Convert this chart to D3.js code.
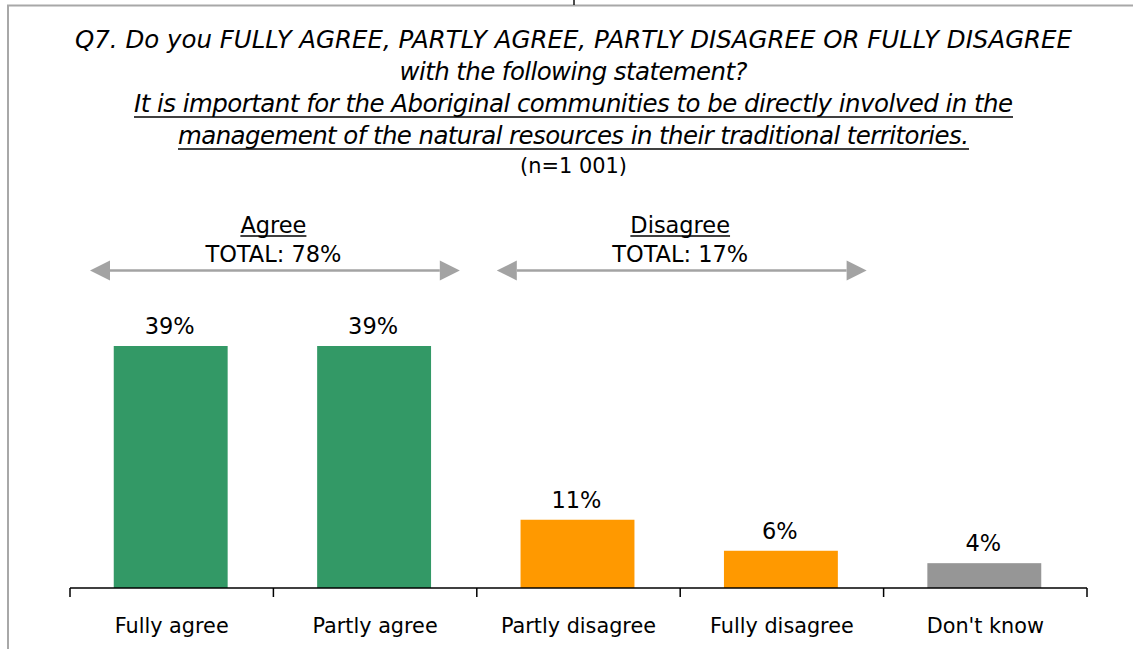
<!DOCTYPE html>
<html>
<head>
<meta charset="utf-8">
<script src="https://cdn.jsdelivr.net/npm/d3@7"></script>
<style>
  html, body { margin: 0; padding: 0; background: #fff; }
  svg { display: block; }
</style>
</head>
<body>
<svg id="chart" width="1133" height="649"></svg>
<script>
// ---------------- data ----------------
const titleLines = [
  "Q7. Do you FULLY AGREE, PARTLY AGREE, PARTLY DISAGREE OR FULLY DISAGREE",
  "with the following statement?",
  "It is important for the Aboriginal communities to be directly involved in the",
  "management of the natural resources in their traditional territories."
];
const sampleText = "(n=1 001)";
const categories = ["Fully agree", "Partly agree", "Partly disagree", "Fully disagree", "Don't know"];
const values = [39, 39, 11, 6, 4];
const valueLabels = ["39%", "39%", "11%", "6%", "4%"];
const barColors = ["#339966", "#339966", "#FF9900", "#FF9900", "#969696"];
const groupNames = ["Agree", "Disagree"];
const groupTotals = ["TOTAL: 78%", "TOTAL: 17%"];
const groupFirst = ["Fully agree", "Partly disagree"];
const groupLast = ["Partly agree", "Fully disagree"];

// ---------------- setup ----------------
const svg = d3.select("#chart");
const FONT = "'DejaVu Sans', Verdana, sans-serif";

function fitSize(text, style, targetW) {
  const t = svg.append("text").attr("font-family", FONT).attr("font-size", 100)
    .attr("font-style", style).text(text);
  const w = t.node().getComputedTextLength();
  t.remove();
  return 100 * targetW / w;
}

// frame
svg.append("line").attr("x1", 7).attr("x2", 1133).attr("y1", 5.5).attr("y2", 5.5)
  .attr("stroke", "#A8A8A8").attr("stroke-width", 2);
svg.append("line").attr("x1", 8).attr("x2", 8).attr("y1", 5).attr("y2", 649)
  .attr("stroke", "#A8A8A8").attr("stroke-width", 2);
svg.append("line").attr("x1", 574).attr("x2", 574).attr("y1", 0).attr("y2", 5)
  .attr("stroke", "#111").attr("stroke-width", 1.5);

// title
const cx = 573.5;
const titleSize = fitSize(titleLines[0], "italic", 997);
const titleBase = [48, 80, 112, 144];
const titleWidths = [997, 348, 879, 791];
titleLines.forEach((s, i) => {
  const t = svg.append("text").attr("x", cx).attr("y", titleBase[i])
    .attr("text-anchor", "middle").attr("font-family", FONT).attr("font-style", "italic")
    .attr("font-size", titleSize).attr("fill", "#000")
    .attr("textLength", titleWidths[i]).attr("lengthAdjust", "spacing").text(s);
  if (i >= 2) {
    const w = titleWidths[i];
    svg.append("line").attr("x1", cx - w / 2).attr("x2", cx + w / 2)
      .attr("y1", titleBase[i] + 5).attr("y2", titleBase[i] + 5)
      .attr("stroke", "#000").attr("stroke-width", 1.5);
  }
});
svg.append("text").attr("x", cx).attr("y", 173).attr("text-anchor", "middle")
  .attr("font-family", FONT).attr("font-size", fitSize(sampleText, "normal", 107))
  .attr("fill", "#000").text(sampleText);

// scales
const x = d3.scaleBand().domain(categories).range([70, 1087]).paddingInner(0.44).paddingOuter(0.22);
const y = d3.scaleLinear().domain([0, 39]).range([588, 346]);
const step = x.step();
const bandStart = c => x(c) + x.bandwidth() / 2 - step / 2;
const bandEnd = c => x(c) + x.bandwidth() / 2 + step / 2;

// bars
svg.append("g").selectAll("rect").data(categories).join("rect")
  .attr("x", d => x(d) - 1).attr("width", x.bandwidth())
  .attr("y", (d, i) => y(values[i])).attr("height", (d, i) => y(0) - y(values[i]))
  .attr("fill", (d, i) => barColors[i]);

// value labels
const labelSize = fitSize("TOTAL: 78%", "normal", 136);
svg.append("g").selectAll("text").data(categories).join("text")
  .attr("x", d => x(d) + x.bandwidth() / 2 - 2)
  .attr("y", (d, i) => y(values[i]) - 12)
  .attr("text-anchor", "middle").attr("font-family", FONT).attr("font-size", labelSize)
  .attr("fill", "#000").text((d, i) => valueLabels[i]);

// axis
const axisG = svg.append("g");
axisG.append("line").attr("x1", bandStart(categories[0])).attr("x2", bandEnd(categories[4]))
  .attr("y1", y(0)).attr("y2", y(0)).attr("stroke", "#000").attr("stroke-width", 1.5);
const tickXs = categories.map(bandStart).concat([bandEnd(categories[4])]);
axisG.selectAll("line.tick").data(tickXs).join("line").attr("class", "tick")
  .attr("x1", d => d).attr("x2", d => d).attr("y1", y(0)).attr("y2", y(0) + 9)
  .attr("stroke", "#000").attr("stroke-width", 1.5);
const catSize = fitSize("Fully agree", "normal", 114);
axisG.selectAll("text").data(categories).join("text")
  .attr("x", d => x(d) + x.bandwidth() / 2).attr("y", 633)
  .attr("text-anchor", "middle").attr("font-family", FONT).attr("font-size", catSize)
  .attr("fill", "#000").text(d => d);

// group annotations
const arrowColor = "#A3A3A3";
groupNames.forEach((g, i) => {
  const x0 = bandStart(groupFirst[i]), x1 = bandEnd(groupLast[i]);
  const mid = (x0 + x1) / 2;
  const ay = 270.5;
  const a0 = x0 + 20, a1 = x1 - 17;
  const head = 20, hh = 10;
  svg.append("line").attr("x1", a0 + head).attr("x2", a1 - head).attr("y1", ay).attr("y2", ay)
    .attr("stroke", arrowColor).attr("stroke-width", 2.5);
  svg.append("path").attr("d", `M${a0},${ay} L${a0 + head},${ay - hh} L${a0 + head},${ay + hh} Z`).attr("fill", arrowColor);
  svg.append("path").attr("d", `M${a1},${ay} L${a1 - head},${ay - hh} L${a1 - head},${ay + hh} Z`).attr("fill", arrowColor);
  const nt = svg.append("text").attr("x", mid).attr("y", 233).attr("text-anchor", "middle")
    .attr("font-family", FONT).attr("font-size", labelSize).attr("fill", "#000").text(g);
  const w = nt.node().getComputedTextLength();
  svg.append("line").attr("x1", mid - w / 2).attr("x2", mid + w / 2).attr("y1", 236).attr("y2", 236)
    .attr("stroke", "#000").attr("stroke-width", 1.5);
  svg.append("text").attr("x", mid).attr("y", 262).attr("text-anchor", "middle")
    .attr("font-family", FONT).attr("font-size", labelSize).attr("fill", "#000").text(groupTotals[i]);
});
</script>
</body>
</html>
